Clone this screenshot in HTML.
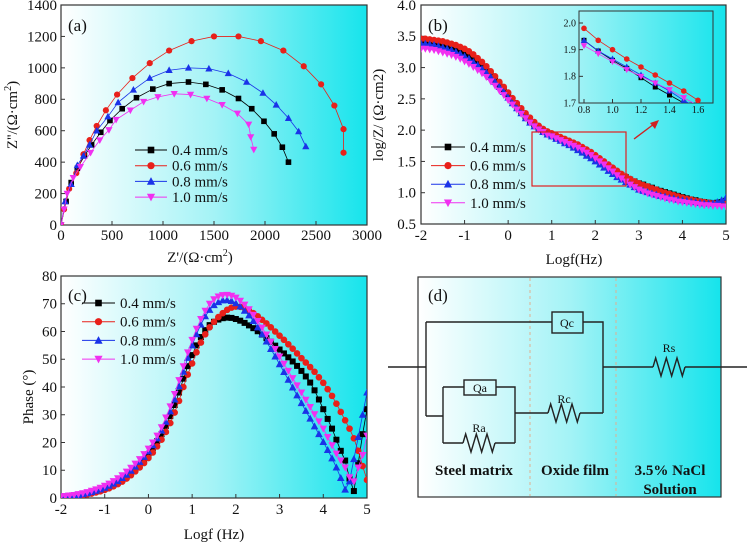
<!DOCTYPE html>
<html><head><meta charset="utf-8">
<style>
html,body{margin:0;padding:0;background:#fff;}
svg{display:block;font-family:"Liberation Serif","Times New Roman",serif;}
svg text{font-family:"Liberation Serif","Times New Roman",serif;fill:#111;}
</style></head>
<body>
<svg id="fig" width="747" height="542" viewBox="0 0 747 542" xmlns="http://www.w3.org/2000/svg" font-family="Liberation Serif, serif">
<defs>
<linearGradient id="bg" x1="0" x2="1" y1="0" y2="0">
<stop offset="0" stop-color="#ffffff"/><stop offset="0.5" stop-color="#a4f3f6"/><stop offset="1" stop-color="#16e4ec"/>
</linearGradient>
<clipPath id="clipA"><rect x="61" y="5" width="306" height="220"/></clipPath>
<clipPath id="clipB"><rect x="421" y="5" width="305" height="219"/></clipPath>
<clipPath id="clipI"><rect x="579" y="11" width="134" height="92"/></clipPath>
<clipPath id="clipC"><rect x="61" y="276" width="306" height="222"/></clipPath>
</defs>
</svg>
<script>
// ---------- data ----------
const seriesNames = ["0.4 mm/s","0.6 mm/s","0.8 mm/s","1.0 mm/s"];
const seriesColors = ["#000000","#e8201a","#1a33e8","#f030f0"];
const seriesMarkers = ["square","circle","up","down"];

// (a) Nyquist
const nyqX04 = [0,50,100,160,230,300,390,480,600,740,900,1060,1250,1420,1580,1740,1870,1990,2090,2170,2230];
const nyqY04 = [0,150,270,360,440,510,590,665,740,810,865,900,910,895,860,805,740,660,580,495,400];
const nyqX06 = [0,30,80,150,220,280,350,440,550,700,870,1060,1280,1500,1740,1960,2180,2380,2550,2680,2770,2770];
const nyqY06 = [0,100,230,330,450,540,630,730,830,935,1030,1110,1170,1200,1200,1170,1110,1010,895,760,610,460];
const nyqX08 = [0,40,100,160,220,280,350,460,560,710,870,1060,1250,1450,1640,1820,1980,2110,2230,2330,2400];
const nyqY08 = [0,150,260,380,440,510,600,690,780,860,935,985,1000,995,965,910,840,765,680,595,500];
const nyqX10 = [0,30,60,120,190,290,380,470,540,680,810,950,1110,1270,1430,1580,1730,1840,1860,1890];
const nyqY10 = [0,100,200,300,370,460,540,605,670,730,785,815,835,830,805,765,710,640,560,480];

// (b),(c) frequency axis: logf from -2 to 5, step 0.1
const logf = [-2.0,-1.9,-1.8,-1.7,-1.6,-1.5,-1.4,-1.3,-1.2,-1.1,-1.0,-0.9,-0.8,-0.7,-0.6,-0.5,-0.4,-0.3,-0.2,-0.1,0.0,0.1,0.2,0.3,0.4,0.5,0.6,0.7,0.8,0.9,1.0,1.1,1.2,1.3,1.4,1.5,1.6,1.7,1.8,1.9,2.0,2.1,2.2,2.3,2.4,2.5,2.6,2.7,2.8,2.9,3.0,3.1,3.2,3.3,3.4,3.5,3.6,3.7,3.8,3.9,4.0,4.1,4.2,4.3,4.4,4.5,4.6,4.7,4.8,4.9,5.0];
const logZ04 = [3.40,3.40,3.39,3.38,3.37,3.35,3.33,3.31,3.28,3.25,3.22,3.18,3.13,3.08,3.02,2.95,2.88,2.80,2.72,2.64,2.55,2.46,2.38,2.30,2.22,2.15,2.09,2.03,1.99,1.95,1.92,1.88,1.85,1.81,1.78,1.75,1.71,1.67,1.63,1.59,1.55,1.50,1.46,1.41,1.37,1.32,1.28,1.25,1.21,1.18,1.15,1.13,1.10,1.08,1.05,1.03,1.01,0.99,0.97,0.95,0.93,0.91,0.89,0.88,0.86,0.85,0.84,0.83,0.84,0.85,0.87];
const logZ06 = [3.46,3.46,3.45,3.44,3.43,3.42,3.40,3.38,3.36,3.33,3.30,3.26,3.21,3.15,3.09,3.02,2.94,2.86,2.77,2.69,2.60,2.51,2.43,2.35,2.27,2.20,2.13,2.07,2.02,1.98,1.95,1.92,1.89,1.86,1.83,1.80,1.77,1.73,1.69,1.65,1.60,1.55,1.50,1.45,1.40,1.35,1.30,1.26,1.22,1.18,1.15,1.12,1.10,1.07,1.05,1.02,1.00,0.98,0.96,0.94,0.92,0.90,0.89,0.87,0.86,0.85,0.84,0.83,0.83,0.82,0.82];
const logZ08 = [3.38,3.38,3.37,3.36,3.34,3.32,3.30,3.28,3.25,3.22,3.18,3.14,3.09,3.04,2.98,2.92,2.85,2.77,2.69,2.61,2.52,2.43,2.35,2.27,2.19,2.12,2.06,2.01,1.97,1.93,1.90,1.86,1.83,1.79,1.76,1.72,1.68,1.64,1.59,1.55,1.50,1.45,1.40,1.35,1.30,1.25,1.21,1.17,1.13,1.09,1.05,1.03,1.01,0.99,0.97,0.95,0.94,0.92,0.91,0.89,0.88,0.87,0.86,0.85,0.84,0.83,0.83,0.83,0.85,0.88,0.92];
const logZ10 = [3.30,3.30,3.29,3.28,3.26,3.24,3.22,3.20,3.17,3.14,3.10,3.06,3.01,2.96,2.91,2.85,2.78,2.71,2.63,2.56,2.48,2.41,2.33,2.26,2.19,2.12,2.06,2.01,1.97,1.93,1.90,1.87,1.84,1.81,1.78,1.75,1.72,1.68,1.64,1.60,1.55,1.50,1.45,1.39,1.34,1.28,1.23,1.18,1.13,1.09,1.05,1.02,0.99,0.97,0.95,0.93,0.91,0.89,0.88,0.86,0.85,0.84,0.83,0.82,0.81,0.80,0.80,0.79,0.79,0.78,0.78];

// inset
const insetF = [0.8,0.9,1.0,1.1,1.2,1.3,1.4,1.5,1.6];
const inset04 = [1.935,1.895,1.86,1.83,1.795,1.76,1.73,1.70,1.67];
const inset06 = [1.98,1.935,1.90,1.865,1.835,1.805,1.775,1.745,1.71];
const inset08 = [1.935,1.895,1.865,1.835,1.805,1.775,1.745,1.71,1.68];
const inset10 = [1.915,1.885,1.855,1.825,1.80,1.775,1.75,1.72,1.69];

// (c) phase
const ph04 = [0.5,0.5,0.6,0.8,1.0,1.3,1.6,2.0,2.4,2.8,3.4,4.0,4.8,5.6,6.6,7.8,9.0,10.5,12.0,13.8,15.8,18.0,20.5,23.0,26.0,29.5,33.5,38.0,43.0,47.5,51.5,55.0,58.0,60.5,62.3,63.5,64.3,64.8,65.0,64.9,64.5,63.9,63.1,62.2,61.2,60.1,58.9,57.6,56.3,54.9,53.5,52.1,50.7,49.2,47.6,45.8,43.8,41.6,38.8,35.5,32.0,28.5,25.0,21.0,17.0,13.5,7.0,2.5,12.5,23.0,32.0];
const ph06 = [0.4,0.4,0.5,0.6,0.8,1.0,1.3,1.6,2.0,2.4,2.9,3.5,4.2,5.0,5.9,7.0,8.2,9.6,11.0,12.6,14.4,16.4,18.6,21.0,23.8,27.0,30.8,35.0,40.0,44.5,48.5,52.5,56.0,59.0,61.5,63.5,65.2,66.6,67.8,68.6,69.0,68.9,68.4,67.6,66.6,65.5,64.2,62.9,61.5,60.0,58.5,57.0,55.4,53.8,52.1,50.4,48.8,47.2,45.5,43.5,41.5,39.2,36.8,34.0,31.0,28.0,25.0,21.5,17.0,11.5,6.5];
const ph08 = [0.5,0.6,0.7,0.9,1.1,1.4,1.7,2.1,2.6,3.1,3.7,4.4,5.2,6.1,7.2,8.4,9.8,11.3,13.0,14.8,16.8,19.0,21.5,24.3,27.5,31.2,35.5,40.3,45.5,50.5,55.0,59.0,62.5,65.5,67.8,69.5,70.6,71.2,71.3,71.0,70.2,69.0,67.5,65.8,63.8,61.5,59.0,56.4,53.7,51.0,48.2,45.4,42.6,39.8,37.0,34.2,31.4,28.6,25.8,23.0,20.2,17.3,14.3,11.0,7.2,3.0,6.0,14.0,22.0,30.0,38.0];
const ph10 = [0.6,0.7,0.9,1.1,1.4,1.7,2.1,2.6,3.1,3.7,4.4,5.2,6.1,7.1,8.2,9.5,10.9,12.4,14.0,15.8,17.8,20.0,22.5,25.5,29.0,33.0,37.5,42.5,47.5,52.5,57.0,61.0,64.5,67.5,70.0,71.6,72.6,73.1,73.2,72.9,72.2,71.1,69.7,68.0,66.0,63.8,61.4,58.9,56.3,53.7,51.0,48.4,45.8,43.2,40.6,38.0,35.4,32.8,30.2,27.6,25.0,22.0,19.0,16.0,13.5,11.0,7.5,6.0,11.0,15.5,22.5];

// tick labels
const aXTicks = [0,500,1000,1500,2000,2500,3000];
const aYTicks = [0,200,400,600,800,1000,1200,1400];
const bXTicks = [-2,-1,0,1,2,3,4,5];
const bYTicks = [0.5,1.0,1.5,2.0,2.5,3.0,3.5,4.0];
const iXTicks = [0.8,1.0,1.2,1.4,1.6];
const iYTicks = [1.7,1.8,1.9,2.0];
const cXTicks = [-2,-1,0,1,2,3,4,5];
const cYTicks = [0,10,20,30,40,50,60,70,80];

// ---------- drawing ----------
const NS = "http://www.w3.org/2000/svg";
const FONT = "'Liberation Serif', 'Times New Roman', serif";
const svg = document.getElementById("fig");
function mk(tag, attrs, parent){
  const e = document.createElementNS(NS, tag);
  for (const k in attrs) e.setAttribute(k, attrs[k]);
  (parent || svg).appendChild(e);
  return e;
}
function txt(s, x, y, size, anchor, parent, extra){
  const t = mk("text", Object.assign({x:x, y:y, "font-size":size, "text-anchor":anchor||"start", "font-family":FONT, fill:"#111"}, extra||{}), parent);
  t.style.fontFamily = FONT;
  t.textContent = s;
  return t;
}
function marker(g, type, x, y, r, color){
  let e;
  if (type === "square") e = mk("rect", {x:x-r, y:y-r, width:2*r, height:2*r, fill:color}, g);
  else if (type === "circle") e = mk("circle", {cx:x, cy:y, r:r+0.3, fill:color}, g);
  else if (type === "up") e = mk("polygon", {points:`${x},${y-r-1} ${x-r-0.8},${y+r} ${x+r+0.8},${y+r}`, fill:color}, g);
  else e = mk("polygon", {points:`${x},${y+r+1} ${x-r-0.8},${y-r} ${x+r+0.8},${y-r}`, fill:color}, g);
  return e;
}
function series(parent, xs, ys, fx, fy, idx, r, name){
  const g = mk("g", {}, parent);
  
  
  const pts = xs.map((v,i)=>fx(v).toFixed(2)+","+fy(ys[i]).toFixed(2)).join(" ");
  mk("polyline", {points:pts, fill:"none", stroke:seriesColors[idx], "stroke-width":0.8}, g);
  xs.forEach((v,i)=>{
    const m = marker(g, seriesMarkers[idx], fx(v), fy(ys[i]), r, seriesColors[idx]);
    
    
  });
  return g;
}
function frame(x0,y0,w,h,name){
  const bg = mk("rect", {x:x0, y:y0, width:w, height:h, fill:"url(#bg)", stroke:"#333", "stroke-width":1.2});
  
  
  return bg;
}
function legend(x, y0, dy, lineW, name){
  const g = mk("g", {});
  
  
  seriesNames.forEach((s,i)=>{
    const y = y0 + i*dy;
    const e = mk("g", {}, g);
    
    
    mk("line", {x1:x, x2:x+lineW, y1:y, y2:y, stroke:seriesColors[i], "stroke-width":1}, e);
    marker(e, seriesMarkers[i], x+lineW/2, y, 3.3, seriesColors[i]);
    txt(s, x+lineW+5, y+5, 15, "start", e);
  });
}
function axes(x0,y0,x1,y1,xt,yt,fx,fy,fmtX,fmtY,fs,name,xlabY,ylabX){
  const g = mk("g", {});
  
  
  xt.forEach(v=>{
    const x = fx(v);
    mk("line", {x1:x,x2:x,y1:y1,y2:y1-4,stroke:"#333","stroke-width":1}, g);
    txt(fmtX(v), x, xlabY, fs, "middle", g);
  });
  yt.forEach(v=>{
    const y = fy(v);
    mk("line", {x1:x0,x2:x0+4,y1:y,y2:y,stroke:"#333","stroke-width":1}, g);
    txt(fmtY(v), ylabX, y+fs*0.33, fs, "end", g);
  });
}

// ===== Panel (a) =====
const xa = v => 61 + v*306/3000;
const ya = v => 225 - v*220/1400;
frame(61,5,306,220,"panel-a-plot-area");
axes(61,5,367,225,aXTicks,aYTicks,xa,ya,v=>String(v),v=>String(v),15,"panel-a-axes",240,57);
const gA = mk("g",{"clip-path":"url(#clipA)"});
series(gA, nyqX04, nyqY04, xa, ya, 0, 2.8, "nyquist-0.4");
series(gA, nyqX06, nyqY06, xa, ya, 1, 2.8, "nyquist-0.6");
series(gA, nyqX08, nyqY08, xa, ya, 2, 2.8, "nyquist-0.8");
series(gA, nyqX10, nyqY10, xa, ya, 3, 2.8, "nyquist-1.0");
legend(135,150,15.7,32,"panel-a-legend");
let t;
t = txt("(a)", 68, 31, 17);  
t = txt("", 200, 262, 15, "middle");  
t.innerHTML = "Z'/(Ω·cm<tspan dy='-6' font-size='10'>2</tspan><tspan dy='6'>)</tspan>";
t = txt("", 0, 0, 15, "middle", svg, {transform:"translate(17,115) rotate(-90)"});
t.innerHTML = "Z''/(Ω·cm<tspan dy='-6' font-size='10'>2</tspan><tspan dy='6'>)</tspan>";
 

// ===== Panel (b) =====
const xb = v => 421 + (v+2)*305/7;
const yb = v => 224 - (v-0.5)*219/3.5;
frame(421,5,305,219,"panel-b-plot-area");
axes(421,5,726,224,bXTicks,bYTicks,xb,yb,v=>String(v),v=>v.toFixed(1),15,"panel-b-axes",240,416);
const gB = mk("g",{"clip-path":"url(#clipB)"});
series(gB, logf, logZ04, xb, yb, 0, 3, "bode-modulus-0.4");
series(gB, logf, logZ06, xb, yb, 1, 3, "bode-modulus-0.6");
series(gB, logf, logZ08, xb, yb, 2, 3, "bode-modulus-0.8");
series(gB, logf, logZ10, xb, yb, 3, 3, "bode-modulus-1.0");
legend(431,147,18.6,34,"panel-b-legend");
t = txt("(b)", 428, 31, 17);  
t = txt("Logf(Hz)", 574, 264, 15, "middle");  
t = txt("log/Z/ (Ω·cm2)", 0, 0, 15, "middle", svg, {transform:"translate(383,115) rotate(-90)"});
 
// zoom box & arrow
t = mk("rect",{x:532,y:132,width:94,height:54,fill:"none",stroke:"#e02020","stroke-width":1.2});
 
t = mk("g",{});
 
mk("line",{x1:634,y1:139,x2:654,y2:124,stroke:"#d02020","stroke-width":1.3},t);
mk("polygon",{points:"659,120 650,123 655,129",fill:"#d02020"},t);
// inset
const xi = v => 584 + (v-0.8)*142.5;
const yi = v => 23 + (2.0-v)*266.7;
t = mk("rect",{x:579,y:11,width:134,height:92,fill:"none",stroke:"#333","stroke-width":1});
 
axes(579,11,713,103,iXTicks,iYTicks,xi,yi,v=>v.toFixed(1),v=>v.toFixed(1),10,"inset-axes",113,576);
const gI = mk("g",{"clip-path":"url(#clipI)"});
series(gI, insetF, inset04, xi, yi, 0, 2.5, "inset-0.4");
series(gI, insetF, inset06, xi, yi, 1, 2.5, "inset-0.6");
series(gI, insetF, inset08, xi, yi, 2, 2.5, "inset-0.8");
series(gI, insetF, inset10, xi, yi, 3, 2.5, "inset-1.0");

// ===== Panel (c) =====
const xc = v => 61 + (v+2)*306/7;
const yc = v => 498 - v*222/80;
frame(61,276,306,222,"panel-c-plot-area");
axes(61,276,367,498,cXTicks,cYTicks,xc,yc,v=>String(v),v=>String(v),15,"panel-c-axes",514,57);
const gC = mk("g",{"clip-path":"url(#clipC)"});
series(gC, logf, ph04, xc, yc, 0, 3, "phase-0.4");
series(gC, logf, ph06, xc, yc, 1, 3, "phase-0.6");
series(gC, logf, ph08, xc, yc, 2, 3, "phase-0.8");
series(gC, logf, ph10, xc, yc, 3, 3, "phase-1.0");
legend(82,303,18.7,33,"panel-c-legend");
t = txt("(c)", 68, 301, 17);  
t = txt("Logf (Hz)", 214, 539, 15, "middle");  
t = txt("Phase (°)", 0, 0, 15, "middle", svg, {transform:"translate(33,397) rotate(-90)"});
 

// ===== Panel (d) circuit =====
frame(418,277,303,220,"panel-d-circuit-box");
const gD = mk("g",{stroke:"#222","stroke-width":1.4,fill:"none"});
 
mk("line",{x1:530,y1:278,x2:530,y2:496,stroke:"#e0b090","stroke-dasharray":"3,3","stroke-width":1},gD);
mk("line",{x1:616,y1:278,x2:616,y2:496,stroke:"#e0b090","stroke-dasharray":"3,3","stroke-width":1},gD);
function zig(x0,x1,y,amp){
  const n=6, w=(x1-x0)/n; let p=`M${x0},${y}`;
  for(let i=0;i<n;i++){ p+=` L${x0+w*(i+0.5)},${y+(i%2?amp:-amp)}`; }
  p+=` L${x1},${y}`; return p;
}
mk("path",{d:"M388,367 L426,367 M426,322 L426,416 M426,322 L552,322 M583,322 L603,322 L603,413 M603,367 L653,367 M685,367 L747,367"},gD);
mk("rect",{x:552,y:312,width:31,height:21,fill:"none"},gD);
mk("path",{d:zig(653,685,367,9)},gD);
mk("path",{d:"M426,416 L443,416 M443,387 L443,443 M443,387 L464,387 M496,387 L515,387 L515,443 M443,443 L463,443 M495,443 L515,443 M515,413 L548,413 M580,413 L603,413"},gD);
mk("rect",{x:464,y:380,width:32,height:15,fill:"none"},gD);
mk("path",{d:zig(463,495,443,9)},gD);
mk("path",{d:zig(548,580,413,9)},gD);
t = txt("Qc", 567, 327, 12, "middle");  
t = txt("Rs", 669, 352, 12, "middle");  
t = txt("Qa", 480, 392, 12, "middle");  
t = txt("Rc", 564, 403, 12, "middle");  
t = txt("Ra", 479, 432, 12, "middle");  
t = txt("(d)", 428, 301, 17);  
t = txt("Steel matrix", 474, 475, 15, "middle", svg, {"font-weight":"bold"});  
t = txt("Oxide film", 575, 475, 15, "middle", svg, {"font-weight":"bold"});  
t = txt("3.5% NaCl", 670, 475, 15, "middle", svg, {"font-weight":"bold"});  
t = txt("Solution", 670, 494, 15, "middle", svg, {"font-weight":"bold"});  
</script>
</body></html>
